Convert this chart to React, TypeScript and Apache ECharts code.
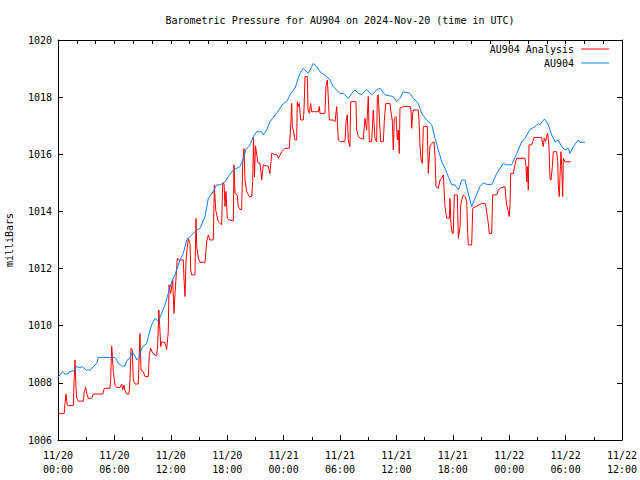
import React, { useEffect, useRef } from "react";
import * as echarts from "echarts";

const titleText = "Barometric Pressure for AU904 on 2024-Nov-20 (time in UTC)";
const yAxisName = "milliBars";
const seriesNames = ["AU904 Analysis", "AU904"];
const xTickLabels = [
  "11/20\n00:00", "11/20\n06:00", "11/20\n12:00", "11/20\n18:00",
  "11/21\n00:00", "11/21\n06:00", "11/21\n12:00", "11/21\n18:00",
  "11/22\n00:00", "11/22\n06:00", "11/22\n12:00",
];
const yMin = 1006;
const yMax = 1020;
const yStep = 2;
const hoursMax = 60;

// [hours since 11/20 00:00 UTC, millibars]
const analysisReadings: [number, number][] = [
  [0.03, 1006.93], [0.67, 1006.93], [0.69, 1007.1], [0.85, 1007.61], [0.99, 1007.22], [1.1, 1007.2],
  [1.63, 1007.2], [1.7, 1007.98], [1.81, 1008.8], [1.91, 1007.87], [1.99, 1007.46], [2.16, 1007.36],
  [2.69, 1007.36], [2.8, 1007.69], [2.95, 1007.84], [3.05, 1007.63], [3.22, 1007.46], [3.59, 1007.46],
  [3.76, 1007.61], [4.76, 1007.61], [4.93, 1007.81], [5.53, 1007.81], [5.61, 1008.16], [5.71, 1009.29],
  [5.78, 1008.98], [5.88, 1008.39], [6.06, 1007.92], [6.24, 1007.84], [6.6, 1007.84], [6.78, 1007.96],
  [6.88, 1007.75], [7.02, 1007.92], [7.13, 1007.73], [7.31, 1007.61], [7.55, 1007.61], [7.66, 1008.1],
  [7.77, 1009.21], [7.9, 1009.15], [8.01, 1008.1], [8.19, 1007.96], [8.54, 1007.96], [8.72, 1009.73],
  [8.83, 1008.45], [9.07, 1008.39], [9.26, 1008.22], [9.61, 1008.22], [9.71, 1008.98], [9.86, 1009.21],
  [10.07, 1009.04], [10.5, 1008.94], [10.61, 1009.36], [10.73, 1010.55], [10.93, 1009.27], [11.03, 1009.44],
  [11.38, 1009.41], [11.56, 1009.17], [11.73, 1009.79], [11.81, 1011.43], [11.99, 1011.13], [12.2, 1011.6],
  [12.34, 1010.43], [12.45, 1011.13], [12.69, 1012.36], [12.9, 1012.3], [13.33, 1012.3], [13.4, 1011.66],
  [13.51, 1011.02], [13.62, 1012.3], [13.86, 1013.06], [14.04, 1012.88], [14.12, 1011.95], [14.22, 1011.78],
  [14.57, 1011.78], [14.68, 1013.76], [14.76, 1012.77], [14.93, 1012.36], [15.11, 1012.22], [15.64, 1012.22],
  [15.82, 1012.95], [15.99, 1013.18], [16.17, 1013.0], [16.52, 1013.0], [16.63, 1014.93], [16.78, 1014.05],
  [17.05, 1013.64], [17.41, 1013.53], [17.52, 1014.98], [17.66, 1014.98], [17.77, 1014.17], [17.87, 1014.7],
  [18.01, 1013.76], [18.22, 1013.7], [18.65, 1013.67], [18.72, 1015.63], [18.83, 1014.63], [19.07, 1014.58],
  [19.18, 1014.17], [19.36, 1014.07], [19.54, 1014.07], [19.65, 1015.68], [19.79, 1016.2], [19.89, 1015.1],
  [20.07, 1014.7], [20.35, 1014.52], [20.61, 1014.52], [20.71, 1015.04], [20.8, 1016.6], [20.9, 1015.2],
  [21.01, 1016.3], [21.14, 1015.98], [21.28, 1015.7], [21.49, 1015.68], [21.67, 1015.1], [21.84, 1015.63],
  [22.37, 1015.57], [22.55, 1015.33], [22.73, 1016.03], [23.27, 1015.98], [23.44, 1015.86], [23.8, 1016.09],
  [24.15, 1016.21], [24.61, 1016.21], [24.75, 1016.97], [24.86, 1017.78], [24.93, 1016.97], [25.03, 1016.85],
  [25.21, 1016.5], [25.39, 1016.5], [25.46, 1017.84], [25.56, 1017.67], [25.67, 1017.78], [25.82, 1017.2],
  [26.1, 1017.2], [26.17, 1017.55], [26.28, 1018.72], [26.52, 1018.72], [26.6, 1017.55], [26.74, 1017.43],
  [26.88, 1017.78], [26.99, 1017.49], [27.69, 1017.49], [27.8, 1017.67], [27.87, 1017.43], [28.4, 1017.43],
  [28.51, 1018.41], [28.65, 1018.6], [28.76, 1017.96], [28.86, 1017.2], [29.29, 1017.2], [29.47, 1017.14],
  [29.65, 1017.67], [29.82, 1016.5], [30.07, 1016.44], [30.53, 1016.44], [30.64, 1017.14], [30.78, 1017.38],
  [30.88, 1016.5], [30.99, 1016.33], [31.06, 1016.27], [31.14, 1017.84], [31.7, 1017.84], [31.78, 1016.85],
  [31.95, 1016.62], [32.2, 1016.56], [32.48, 1016.53], [32.66, 1017.26], [32.84, 1016.85], [32.9, 1017.32],
  [33.01, 1018.02], [33.12, 1016.44], [33.37, 1016.44], [33.54, 1017.55], [33.72, 1016.56], [33.9, 1016.44],
  [33.97, 1018.02], [34.07, 1018.08], [34.18, 1017.32], [34.33, 1016.44], [34.61, 1016.44], [34.71, 1017.14],
  [34.86, 1017.78], [35.32, 1017.78], [35.39, 1017.55], [35.56, 1017.2], [35.67, 1016.15], [35.78, 1017.26],
  [35.96, 1017.32], [36.1, 1016.5], [36.2, 1016.85], [36.31, 1016.03], [36.38, 1017.61], [36.73, 1017.67],
  [37.45, 1017.67], [37.55, 1017.55], [37.63, 1016.91], [37.73, 1017.43], [37.8, 1017.55], [38.33, 1017.55],
  [38.4, 1017.2], [38.51, 1016.33], [38.62, 1015.8], [38.76, 1015.68], [38.86, 1016.97], [39.29, 1016.97],
  [39.39, 1015.33], [39.57, 1016.27], [39.76, 1016.38], [40.0, 1016.44], [40.11, 1015.92], [40.21, 1014.87],
  [40.46, 1014.81], [40.64, 1015.1], [40.82, 1015.16], [40.99, 1015.28], [41.17, 1014.17], [41.35, 1013.76],
  [41.63, 1013.76], [41.7, 1014.46], [41.81, 1013.53], [41.95, 1013.23], [42.05, 1013.23], [42.16, 1014.58],
  [42.48, 1014.58], [42.59, 1013.06], [42.77, 1013.47], [42.84, 1014.23], [42.95, 1014.4], [43.12, 1014.58],
  [43.3, 1014.52], [43.48, 1014.35], [43.59, 1013.23], [43.65, 1012.83], [44.01, 1012.83], [44.12, 1014.11],
  [45.07, 1014.28], [45.43, 1014.28], [45.53, 1014.17], [45.67, 1013.82], [45.78, 1013.58], [45.88, 1013.23],
  [46.14, 1013.23], [46.24, 1014.58], [46.67, 1014.58], [46.84, 1014.75], [47.02, 1014.81], [47.55, 1014.87],
  [47.63, 1014.52], [47.73, 1014.23], [47.9, 1014.0], [48.01, 1013.82], [48.09, 1014.23], [48.16, 1015.33],
  [48.44, 1015.33], [48.54, 1015.51], [48.72, 1015.8], [48.8, 1015.86], [49.68, 1015.86], [49.79, 1015.57],
  [49.86, 1015.04], [49.93, 1015.57], [50.03, 1014.75], [50.11, 1016.33], [50.39, 1016.33], [50.5, 1016.44],
  [50.64, 1016.59], [51.46, 1016.59], [51.56, 1016.33], [51.63, 1016.27], [51.73, 1016.56], [51.88, 1016.45],
  [51.99, 1016.64], [52.1, 1016.73], [52.23, 1016.27], [52.34, 1015.16], [52.45, 1015.1], [52.59, 1015.57],
  [52.69, 1016.09], [53.05, 1016.09], [53.16, 1015.74], [53.22, 1014.93], [53.33, 1014.52], [53.4, 1015.22],
  [53.51, 1016.09], [53.58, 1015.6], [53.69, 1014.52], [53.76, 1015.86], [53.94, 1015.74], [54.54, 1015.74],
];

const stationReadings: [number, number][] = [
  [0.03, 1008.2], [0.46, 1008.39], [0.74, 1008.31], [1.1, 1008.31], [1.17, 1008.39], [1.73, 1008.43],
  [1.99, 1008.57], [2.34, 1008.53], [2.52, 1008.57], [2.87, 1008.49], [3.05, 1008.43], [3.22, 1008.47],
  [3.4, 1008.43], [3.76, 1008.57], [4.12, 1008.68], [4.29, 1008.89], [6.06, 1008.89], [6.24, 1008.8],
  [6.41, 1008.68], [6.78, 1008.59], [7.13, 1008.59], [7.31, 1008.78], [7.66, 1008.86], [7.9, 1009.09],
  [8.19, 1008.94], [8.37, 1008.8], [8.62, 1008.89], [8.83, 1009.15], [9.07, 1009.29], [9.44, 1009.38],
  [9.61, 1009.62], [9.79, 1009.85], [9.97, 1010.03], [10.32, 1010.26], [10.67, 1010.14], [11.38, 1010.73],
  [11.73, 1011.13], [12.1, 1011.54], [12.27, 1011.66], [12.45, 1011.78], [12.98, 1012.3], [13.33, 1012.53],
  [13.69, 1013.0], [14.22, 1013.18], [14.76, 1013.35], [15.11, 1013.41], [15.64, 1013.82], [15.99, 1014.46],
  [16.52, 1014.7], [16.88, 1014.93], [17.23, 1014.93], [17.77, 1015.04], [18.12, 1015.22], [18.65, 1015.45],
  [19.01, 1015.51], [19.36, 1015.57], [19.71, 1015.8], [19.97, 1016.15], [20.43, 1016.33], [20.78, 1016.62],
  [21.14, 1016.79], [21.67, 1016.79], [21.84, 1016.68], [22.2, 1016.85], [22.55, 1017.14], [23.27, 1017.45],
  [23.97, 1017.78], [24.33, 1017.84], [24.68, 1018.08], [25.21, 1018.31], [25.74, 1018.83], [26.1, 1019.01],
  [26.63, 1018.83], [27.16, 1019.18], [27.52, 1019.07], [27.87, 1018.89], [28.59, 1018.72], [28.94, 1018.6],
  [29.29, 1018.37], [30.0, 1018.13], [30.35, 1018.13], [30.88, 1017.96], [31.24, 1018.13], [31.6, 1018.25],
  [31.95, 1018.13], [32.31, 1018.08], [32.84, 1018.27], [33.37, 1018.08], [33.9, 1018.25], [34.26, 1018.31],
  [34.79, 1018.08], [35.67, 1018.02], [36.03, 1017.84], [36.38, 1017.96], [36.73, 1018.19], [37.45, 1018.13],
  [37.8, 1017.96], [38.33, 1017.78], [38.69, 1017.43], [39.22, 1017.2], [39.76, 1017.03], [40.11, 1016.56],
  [40.46, 1016.15], [40.82, 1015.74], [41.17, 1015.51], [41.52, 1015.22], [41.88, 1014.93], [42.23, 1014.93],
  [42.59, 1014.75], [42.95, 1015.1], [43.3, 1015.1], [43.65, 1014.63], [44.01, 1014.17], [44.36, 1014.46],
  [44.89, 1014.87], [45.24, 1015.0], [45.61, 1014.95], [46.14, 1014.93], [46.67, 1015.33], [47.37, 1015.68],
  [47.73, 1015.63], [48.27, 1015.63], [48.8, 1016.03], [49.33, 1016.44], [49.68, 1016.56], [50.21, 1016.87],
  [50.74, 1016.97], [51.1, 1017.08], [51.28, 1017.03], [51.63, 1017.2], [51.81, 1017.22], [52.16, 1017.03],
  [52.52, 1016.68], [52.87, 1016.44], [53.22, 1016.5], [53.58, 1016.27], [53.94, 1016.15], [54.29, 1016.21],
  [54.47, 1016.03], [54.82, 1016.27], [55.35, 1016.5], [55.53, 1016.42], [56.06, 1016.42],
];

const FONT = "'DejaVu Sans Mono', 'Liberation Mono', monospace";
const RED = "#ff0000";
const BLUE = "#0a80ff";

export default function App() {
  const ref = useRef<HTMLDivElement>(null);

  useEffect(() => {
    if (!ref.current) return;
    const chart = echarts.init(ref.current, undefined, { renderer: "svg" });
    const axisLine = { show: true, onZero: false, lineStyle: { color: "#000", width: 1 } };
    const labelStyle = { fontFamily: FONT, fontSize: 10, color: "#000" };
    const legendBase = {
      orient: "vertical" as const,
      align: "right" as const,
      right: 31,
      padding: 0,
      itemWidth: 28,
      itemHeight: 1,
      icon: "rect",
      selectedMode: false,
      textStyle: { fontFamily: FONT, fontSize: 10, color: "#000", lineHeight: 12, padding: [0, 2, 0, 0] },
    };
    chart.setOption({
      animation: false,
      backgroundColor: "#ffffff",
      textStyle: { fontFamily: FONT },
      grid: { left: 58, right: 18, top: 40, bottom: 40, containLabel: false, outerBoundsMode: "none" },
      graphic: [
        {
          type: "text",
          x: 340,
          y: 20,
          style: {
            text: titleText,
            fontFamily: FONT,
            fontSize: 10,
            fill: "#000",
            textAlign: "center",
            textVerticalAlign: "middle",
          },
        },
      ],
      legend: [
        { ...legendBase, top: 43, data: [seriesNames[0]] },
        { ...legendBase, top: 57, data: [seriesNames[1]] },
      ],
      xAxis: [
        {
          type: "value",
          min: 0,
          max: hoursMax,
          interval: 6,
          position: "bottom",
          axisLine,
          axisTick: { show: true, inside: true, length: 5, lineStyle: { color: "#000" } },
          minorTick: { show: true, splitNumber: 2, length: 3, lineStyle: { color: "#000" } },
          splitLine: { show: false },
          axisLabel: {
            ...labelStyle,
            margin: 8,
            lineHeight: 14,
            formatter: (v: number) => xTickLabels[Math.round(v / 6)] ?? "",
          },
        },
        {
          type: "value",
          min: 0,
          max: hoursMax,
          interval: 2,
          position: "top",
          axisLine,
          axisTick: { show: true, inside: true, length: 4, lineStyle: { color: "#000" } },
          splitLine: { show: false },
          axisLabel: { show: false },
        },
      ],
      yAxis: [
        {
          type: "value",
          min: yMin,
          max: yMax,
          interval: yStep,
          position: "left",
          name: yAxisName,
          nameLocation: "middle",
          nameGap: 44,
          nameRotate: 90,
          nameTextStyle: { fontFamily: FONT, fontSize: 10, color: "#000" },
          axisLine,
          axisTick: { show: true, inside: true, length: 5, lineStyle: { color: "#000" } },
          splitLine: { show: false },
          axisLabel: { ...labelStyle, margin: 6, formatter: (v: number) => String(v) },
        },
        {
          type: "value",
          min: yMin,
          max: yMax,
          interval: yStep,
          position: "right",
          axisLine,
          axisTick: { show: true, inside: true, length: 5, lineStyle: { color: "#000" } },
          splitLine: { show: false },
          axisLabel: { show: false },
        },
      ],
      series: [
        {
          name: seriesNames[0],
          type: "line",
          xAxisIndex: 0,
          yAxisIndex: 0,
          data: analysisReadings,
          symbol: "none",
          showSymbol: false,
          lineStyle: { color: RED, width: 1 },
          itemStyle: { color: RED },
        },
        {
          name: seriesNames[1],
          type: "line",
          xAxisIndex: 0,
          yAxisIndex: 0,
          data: stationReadings,
          symbol: "none",
          showSymbol: false,
          lineStyle: { color: BLUE, width: 1 },
          itemStyle: { color: BLUE },
        },
      ],
    });
    return () => chart.dispose();
  }, []);

  return (
    <div
      ref={ref}
      style={{ position: "absolute", left: 0, top: 0, width: 640, height: 480, background: "#fff" }}
    />
  );
}
